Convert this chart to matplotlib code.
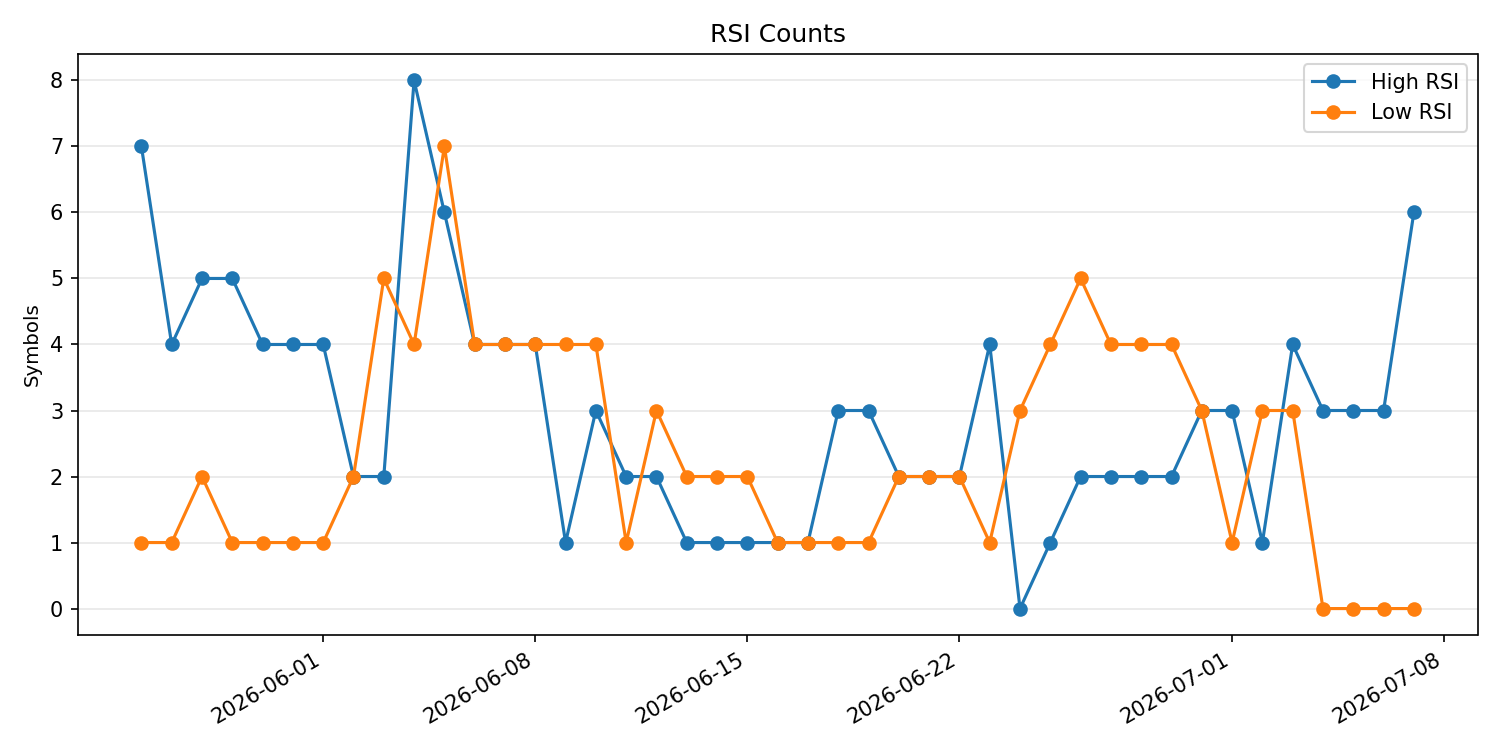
import numpy as np
import pandas as pd
import matplotlib
matplotlib.use("Agg")
import matplotlib.pyplot as plt
import matplotlib.dates as mdates

dates = pd.date_range("2026-05-26", "2026-07-07", freq="D")

high_rsi = [7, 4, 5, 5, 4, 4, 4, 2, 2, 8,
            6, 4, 4, 4, 1, 3, 2, 2, 1, 1,
            1, 1, 1, 3, 3, 2, 2, 2, 4, 0,
            1, 2, 2, 2, 2, 3, 3, 1, 4, 3,
            3, 3, 6]
low_rsi = [1, 1, 2, 1, 1, 1, 1, 2, 5, 4,
           7, 4, 4, 4, 4, 4, 1, 3, 2, 2,
           2, 1, 1, 1, 1, 2, 2, 2, 1, 3,
           4, 5, 4, 4, 4, 3, 1, 3, 3, 0,
           0, 0, 0]

fig, ax = plt.subplots(figsize=(10, 5), dpi=150)
ax.plot(dates, high_rsi, marker="o", label="High RSI")
ax.plot(dates, low_rsi, marker="o", label="Low RSI")

ax.set_title("RSI Counts")
ax.set_ylabel("Symbols", fontsize=9.5)
ax.grid(axis="y", alpha=0.3)
ax.legend(loc="upper right")
ax.xaxis.set_major_locator(mdates.AutoDateLocator())
fig.autofmt_xdate()
fig.tight_layout()
fig.savefig("out.png")
